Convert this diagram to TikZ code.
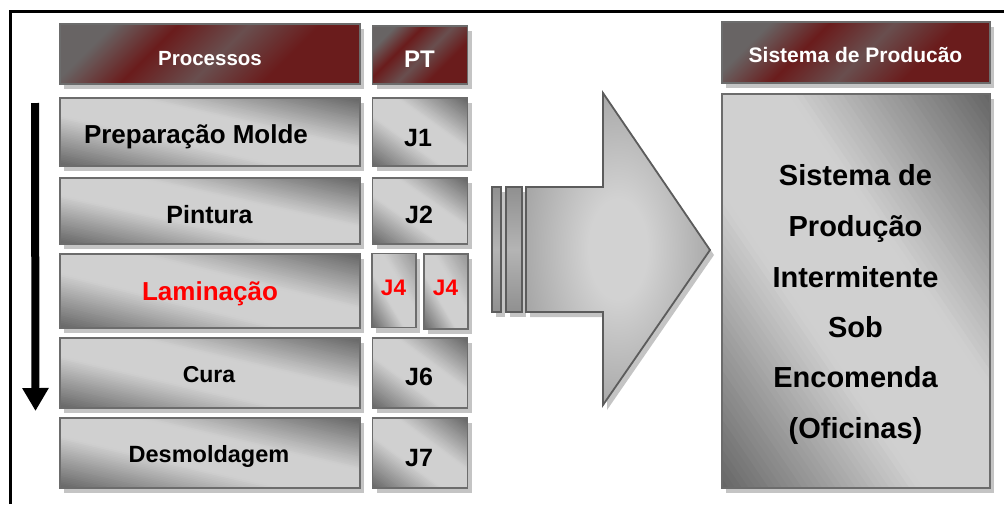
\documentclass[tikz,border=0pt]{standalone}
\usepackage{fontspec}
\setmainfont{Liberation Sans}
\usetikzlibrary{shadows,arrows.meta}

\definecolor{edge}{HTML}{6C6C6C}
\definecolor{bxdark}{HTML}{666666}
\definecolor{bxlight}{HTML}{D0D0D0}
\definecolor{hred}{HTML}{6A1C1C}
\definecolor{hgray}{HTML}{686464}
\definecolor{shd}{HTML}{C4C4C4}
\definecolor{arrowin}{HTML}{D2D2D2}
\definecolor{arrowout}{HTML}{999999}
\definecolor{stripemid}{HTML}{B4B4B4}
\definecolor{stripeend}{HTML}{909090}
\definecolor{lamred}{HTML}{FF0000}

% maroon and grey bands for the header bars
\pgfdeclarehorizontalshading{hdrgrad}{100bp}{color(0bp)=(hgray); color(25bp)=(hgray); color(38bp)=(hred); color(52bp)=(hgray!70!hred); color(66bp)=(hred); color(100bp)=(hred)}
% block arrow: light centre fading out to mid grey
\pgfdeclareradialshading{arrowgrad}{\pgfpoint{0bp}{0bp}}{color(0bp)=(arrowin); color(8bp)=(arrowin); color(32bp)=(arrowout); color(100bp)=(arrowout)}

% Diagonal grey gradient for a box of width #1 and height #2 (pt), drawn
% around the origin: u = (x/halfwidth + y/halfheight)/2 runs from -1 at the
% lower-left corner to +1 at the upper-right one; the band |u| small stays
% light, the lower-left corner goes dark, the upper-right corner ends at #3
% percent of the light grey. Neighbouring strips overlap to hide seams.
\newcommand\diagstrips[3]{%
  \pgfmathsetmacro\hw{#1/2}\pgfmathsetmacro\hh{#2/2}%
  \foreach \k in {0,...,79}{%
    \pgfmathsetmacro\ca{-1+0.025*\k}%
    \pgfmathsetmacro\cb{\ca+0.05}%
    \pgfmathsetmacro\um{\ca+0.0125}%
    \pgfmathsetmacro\ramp{min(1,max(0,(abs(\um)-0.26)/0.74))}%
    \pgfmathtruncatemacro\pct{\um<0 ? 100*(1-\ramp) : 100-(100-#3)*\ramp}%
    \fill[bxlight!\pct!bxdark]
      ({\hw*(\ca+2)*1pt},{\hh*(\ca-2)*1pt}) -- ({\hw*(\ca-2)*1pt},{\hh*(\ca+2)*1pt})
      -- ({\hw*(\cb-2)*1pt},{\hh*(\cb+2)*1pt}) -- ({\hw*(\cb+2)*1pt},{\hh*(\cb-2)*1pt})
      -- cycle;}}

\tikzset{
  boxshadow/.style={drop shadow={shadow xshift=4pt, shadow yshift=-5pt, fill=shd, opacity=1}},
  gbox/.style n args={3}{minimum width=#1pt, minimum height=#2pt, draw=edge,
    line width=1.8pt, inner sep=0pt, boxshadow,
    path picture={\begin{scope}[shift={(path picture bounding box.center)}]
      \diagstrips{#1}{#2}{#3}\end{scope}}},
  procbox/.style 2 args={gbox={#1}{#2}{0}},
  narrowbox/.style 2 args={gbox={#1}{#2}{45}},
  hdrbox/.style 2 args={minimum width=#1pt, minimum height=#2pt, draw=edge,
    line width=1.8pt, inner sep=0pt, shading=hdrgrad, shading angle=-45, boxshadow},
  lbl/.style={anchor=base, inner sep=0pt, font=\bfseries\fontsize{#1}{#1}\selectfont},
  hdrlbl/.style={lbl=#1, text=white},
  stripe/.style={draw=edge!85!black, line width=1.4pt, top color=stripeend,
    bottom color=stripeend, middle color=stripemid, boxshadow},
}

\begin{document}
\begin{tikzpicture}[x=1pt, y=-1pt]
\useasboundingbox (0,0) rectangle (1004,504);

% outer frame (only its top and left sides fall inside the page)
\draw[line width=3pt] (10,504) -- (10,11) -- (1004,11);

% column headers
\node[hdrbox={300}{60}] (hproc) at (210,54) {};
\node[hdrbox={95}{58}] (hpt) at (420,55) {};
\node[hdrbox={268}{61}] (hsys) at (856,52.5) {};
\node[hdrlbl=20.5] (hproc-t) at (210,65) {Processos};
\node[hdrlbl=24] (hpt-t) at (419.5,67) {PT};
\node[hdrlbl=21] (hsys-t) at (855.5,62) {Sistema de Producão};

% process column
\node[procbox={300}{68}] (prep) at (210,132) {};
\node[procbox={300}{66}] (pint) at (210,211) {};
\node[procbox={300}{74}] (lam)  at (210,291) {};
\node[procbox={300}{70}] (cura) at (210,373) {};
\node[procbox={300}{70}] (desm) at (210,453) {};
\node[lbl=26]   (prep-t) at (196,143) {Preparação Molde};
\node[lbl=25]   (pint-t) at (209.5,223) {Pintura};
\node[lbl=26, text=lamred] (lam-t) at (210,300) {Laminação};
\node[lbl=23]   (cura-t) at (209,382) {Cura};
\node[lbl=23.5] (desm-t) at (209,462) {Desmoldagem};

% job column
\node[procbox={95}{68}] (j1) at (420,132) {};
\node[procbox={95}{66}] (j2) at (420,211) {};
\node[narrowbox={44}{74}] (j4a) at (394,290.5) {};
\node[narrowbox={44}{75}] (j4b) at (446,291.5) {};
\node[procbox={95}{70}] (j6) at (420,373) {};
\node[procbox={95}{70}] (j7) at (420,453) {};
\node[lbl=25] (j1-t) at (418,146) {J1};
\node[lbl=25] (j2-t) at (419,223) {J2};
\node[lbl=22.5, text=lamred] (j4a-t) at (393.5,295) {J4};
\node[lbl=22.5, text=lamred] (j4b-t) at (445.5,295) {J4};
\node[lbl=25] (j6-t) at (419,385) {J6};
\node[lbl=25] (j7-t) at (419,466) {J7};

% downward flow arrow beside the processes
\coordinate (flowtop) at (35,103);
\coordinate (flowend) at (35.5,411);
\draw[line width=8pt, -{Triangle[width=25pt,length=23pt]}] (flowtop) -- (flowend);

% block arrow with its two trailing stripes
\path[stripe] (492,187) rectangle (501,312);
\path[stripe] (506,187) rectangle (522,312);
\path[draw=edge!85!black, line width=1.8pt, shading=arrowgrad, boxshadow]
  (526,187) -- (603,187) -- (603,93) -- (710,250) -- (603,405)
  -- (603,312) -- (526,312) -- cycle;

% production system box
\node[procbox={268}{394}] (sys) at (856,291) {};
\foreach \txt/\yb [count=\i] in {Sistema de/185, Produção/236, Intermitente/287,
    Sob/337, Encomenda/387, (Oficinas)/438}
  \node[lbl=29] (sys-\i) at (855.5,\yb) {\txt};
\end{tikzpicture}
\end{document}
